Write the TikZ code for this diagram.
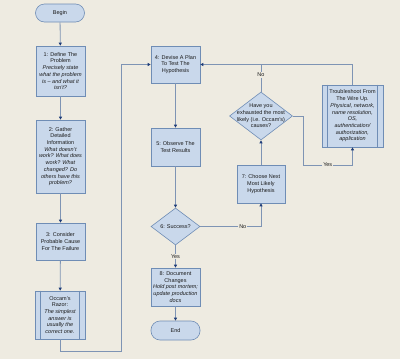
\documentclass[tikz,border=0pt]{standalone}
\usepackage{fontspec}
\setmainfont{Liberation Sans}
\usetikzlibrary{arrows.meta,shapes.geometric}
\definecolor{bg}{HTML}{EEEBE1}
\definecolor{boxfill}{HTML}{C9D8EB}
\definecolor{boxdraw}{HTML}{6F8DB5}
\definecolor{conn}{HTML}{7E94B4}
\definecolor{tipcol}{HTML}{1E3C78}
\definecolor{txt}{HTML}{1A1A1A}
\begin{document}
\begin{tikzpicture}[x=1pt,y=-1pt,
  font=\fontsize{5.5}{6.7}\selectfont,
  box/.style={draw=boxdraw, fill=boxfill, line width=0.6pt, inner sep=0pt, align=center, text=txt},
  term/.style={box, rounded corners=9pt},
  dia/.style={draw=boxdraw, fill=boxfill, line width=0.6pt, diamond, inner sep=0pt},
  txtnode/.style={inner sep=0pt, align=center, text=txt},
  line/.style={draw=conn, line width=0.8pt},
  arr/.style={line, -{Triangle[length=3pt,width=3pt,color=tipcol]}},
  lbl/.style={fill=bg, inner sep=1pt, text=txt},
  ]
\fill[bg] (0,0) rectangle (400,359);
\useasboundingbox (0,0) rectangle (400,359);

% left column
\node[term, minimum width=49pt, minimum height=18pt] (begin) at (60,13) {Begin};
\node[box, minimum width=49pt, minimum height=50pt] (b1) at (60.5,71) {1: Define The\\Problem\\\itshape Precisely state\\\itshape what the problem\\\itshape is -- and what it\\\itshape isn't?};
\node[box, minimum width=49pt, minimum height=73pt] (b2) at (60.5,156.5) {2: Gather\\Detailed\\Information\\\itshape What doesn't\\\itshape work? What does\\\itshape work? What\\\itshape changed? Do\\\itshape others have this\\\itshape problem?};
\node[box, minimum width=49pt, minimum height=37pt] (b3) at (60.5,241.5) {3: Consider\\Probable Cause\\For The Failure};
\node[box, minimum width=50pt, minimum height=48pt] (occ) at (60,315) {Occam's\\Razor:\\\itshape The simplest\\\itshape answer is\\\itshape usually the\\\itshape correct one.};
\draw[boxdraw, line width=0.6pt] ([xshift=6pt]occ.north west) -- ([xshift=6pt]occ.south west);
\draw[boxdraw, line width=0.6pt] ([xshift=-6.5pt]occ.north east) -- ([xshift=-6.5pt]occ.south east);

% middle column
\node[box, minimum width=49pt, minimum height=37pt] (b4) at (175.5,64.5) {4: Devise A Plan\\To Test The\\Hypothesis};
\node[box, minimum width=49pt, minimum height=38pt] (b5) at (175.5,147) {5: Observe The\\Test Results};
\node[dia, minimum width=49pt, minimum height=37pt] (d6) at (175.5,226.5) {};
\node[txtnode] at (d6) {6: Success?};
\node[box, minimum width=49pt, minimum height=38pt] (b8) at (175.5,287) {8: Document\\Changes\\\itshape Hold post mortem;\\\itshape update production\\\itshape docs};
\node[term, minimum width=49pt, minimum height=19pt] (end) at (175.5,330.5) {End};

% right part
\node[box, minimum width=48pt, minimum height=38pt] (b7) at (261,184) {7: Choose Next\\Most Likely\\Hypothesis};
\node[dia, minimum width=63pt, minimum height=48pt] (dq) at (261,116) {};
\node[txtnode] at (dq) {Have you\\exhausted the most\\likely (i.e. Occam's)\\causes?};
\node[box, minimum width=61pt, minimum height=62pt] (ts) at (352.5,116) {Troubleshoot From\\The Wire Up.\\\itshape Physical, network,\\\itshape name resolution,\\\itshape OS,\\\itshape authentication/\\\itshape authorization,\\\itshape application};
\draw[boxdraw, line width=0.6pt] ([xshift=6pt]ts.north west) -- ([xshift=6pt]ts.south west);
\draw[boxdraw, line width=0.6pt] ([xshift=-6pt]ts.north east) -- ([xshift=-6pt]ts.south east);

\coordinate (c1) at (60,351);
\coordinate (c2) at (121,351);
\coordinate (c3) at (303,165);

% connectors
\draw[arr] (begin) -- (b1);
\draw[arr] (b1) -- (b2);
\draw[arr] (b2) -- (b3);
\draw[arr] (b3) -- (occ);
\draw[arr] (occ.south) -- (occ.south |- c1) -- (c2) |- (b4.west);
\draw[arr] (b4) -- (b5);
\draw[arr] (b5) -- (d6);
\draw[arr] (d6.south) -- node[lbl]{Yes} (b8.north);
\draw[arr] (b8) -- (end);
\draw[arr] (d6.east) -| node[lbl, pos=0.35]{No} (b7.south);
\draw[arr] (b7.north) -- (dq.south);
\draw[arr] (ts.north) |- (b4.east);
\draw[line] (dq.north) -- node[lbl, pos=0.62]{No} (dq.north |- b4.east);
\draw[line] (dq.east) -| (c3);
\draw[arr] (c3) -| node[lbl, pos=0.25]{Yes} (ts.south);
\end{tikzpicture}
\end{document}
